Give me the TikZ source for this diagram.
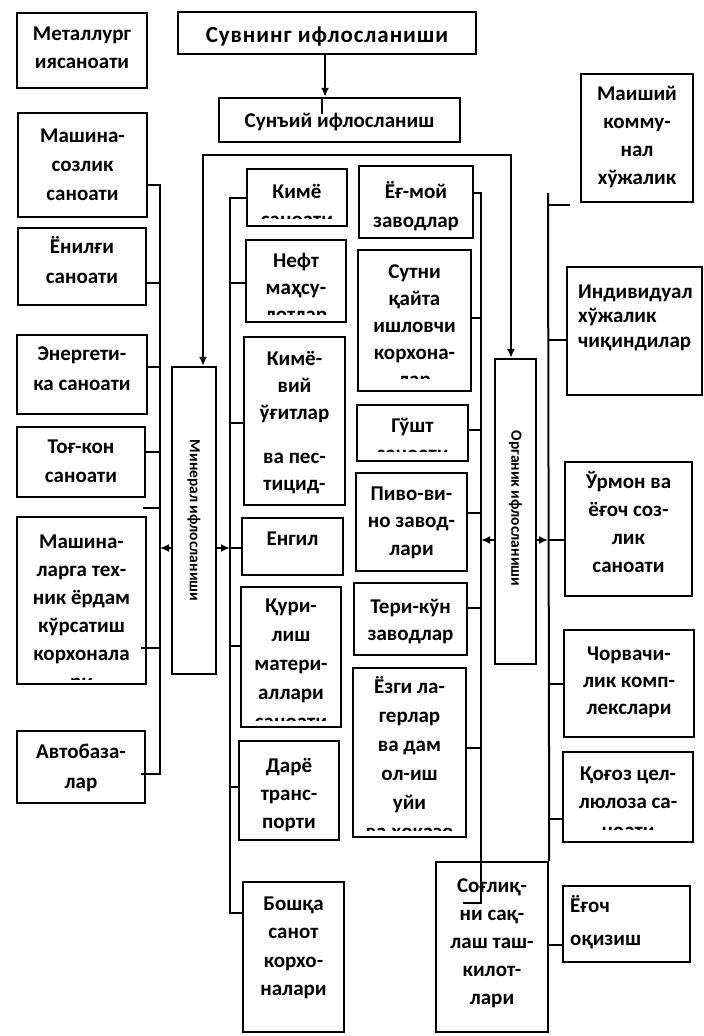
\documentclass[tikz,border=0pt]{standalone}
\usepackage{fontspec}
\setmainfont{Carlito}
\usetikzlibrary{fit,arrows.meta,calc}

\tikzset{
  box/.style={draw=black, line width=2.4pt, inner sep=0pt, fit={#1}},
  box/.default={},
  lbl/.style={align=center, inner sep=0pt, text=black,
              font=\bfseries\fontsize{21}{28}\selectfont},
  ls/.style={font=\bfseries\fontsize{21}{#1}\selectfont},
  rot/.style={rotate=-90, inner sep=0pt, font=\bfseries\fontsize{15.5}{18}\selectfont},
  conn/.style={draw=black, line width=2pt},
  arr/.style={conn, -{Latex[length=9pt,width=8pt]}},
}

% framed box with centred text; text below y = #6 is cut off
% #1 label options, #2 name, #3 top-left, #4 bottom-right,
% #5 first baseline, #6 lowest visible y, #7 text
\newcommand\tbox[7][]{%
  \coordinate (#2-tl) at (#3);
  \coordinate (#2-br) at (#4);
  \coordinate (#2-c) at ($(#2-tl)!.5!(#2-br)$);
  \begin{scope}
    \clip (#2-tl) rectangle (#2-br |- 0,#6);
    \node[lbl, anchor=north, #1] (#2-t) at (#2-c |- 0,{#5-19}) {\rule{0pt}{19pt}#7};
  \end{scope}
  \node[box={(#2-tl) (#2-br)}] (#2) {};
}
% framed box with left-aligned text starting at x = #5
% #1 label options, #2 name, #3 top-left, #4 bottom-right,
% #5 text left x, #6 first baseline, #7 text
\newcommand\lbox[7][]{%
  \coordinate (#2-tl) at (#3);
  \coordinate (#2-br) at (#4);
  \node[lbl, align=left, anchor=north west, #1] (#2-t) at (#5,{#6-19}) {\rule{0pt}{19pt}#7};
  \node[box={(#2-tl) (#2-br)}] (#2) {};
}

\begin{document}
\begin{tikzpicture}[x=1pt, y=-1pt]
\useasboundingbox (0,0) rectangle (704,1036);

% ---- top ----
\tbox[font=\bfseries\fontsize{23}{28}\selectfont\addfontfeatures{LetterSpace=4}]{suv}{178,12}{476,54}{42}{54}{Сувнинг ифлосланиши}
\tbox{sun}{219,98}{460,142}{127}{142}{Сунъий ифлосланиш}

% ---- outer left column ----
\tbox{metal}{17,13}{147,88}{40}{88}{Металлург\\иясаноати}
\tbox[ls=29]{mash}{18,113}{147,217}{142}{217}{Машина-\\созлик\\саноати}
\tbox[ls=30]{yonilgi}{18,228}{146,305}{253}{305}{Ёнилғи\\саноати}
\tbox[ls=30]{energ}{17,335}{147,414}{360}{414}{Энергети-\\ка саноати}
\tbox[ls=29]{tog}{17,427}{145,497}{453}{497}{Тоғ-кон\\саноати}
\tbox{texn}{17,517}{146,684}{548}{679}{Машина-\\ларга тех-\\ник ёрдам\\кўрсатиш\\корхонала\\ри}
\tbox[ls=30]{avto}{17,731}{145,803}{758}{803}{Автобаза-\\лар}

% ---- vertical category boxes ----
\node[box={(172,367) (216,674)}] (min) {};
\node[rot] (min-t) at (min.center) {Минерал ифлосланиши};
\node[box={(495,359) (536,664)}] (org) {};
\node[rot] (org-t) at ([yshift=3]org.center) {Органик ифлосланиши};

% ---- inner left column ----
\tbox{kimyo}{247,169}{347,226}{198}{218}{Кимё\\саноати}
\tbox[ls=27]{neft}{246,240}{346,322}{267}{314}{Нефт\\маҳсу-\\лотлар}
\tbox[ls=27]{ugit}{244,337}{345,505}{365}{505}{Кимё-\\вий\\ўғитлар\\[17pt]ва пес-\\тицид-}
\tbox{engil}{242,518}{343,575}{545}{575}{Енгил}
\tbox[ls=29]{qurilish}{241,587}{341,727}{612}{720}{Қури-\\лиш\\матери-\\аллари\\саноати}
\tbox[ls=28]{daryo}{239,741}{339,840}{772}{840}{Дарё\\транс-\\порти}
\tbox[ls=28.5]{boshqa}{243,882}{344,1032}{910}{1032}{Бошқа\\санот\\корхо-\\налари}

% ---- inner right column ----
\tbox[ls=29]{yog}{359,166}{473,238}{198}{238}{Ёғ-мой\\заводлар}
\tbox[ls=27]{sut}{358,250}{471,391}{278}{378}{Сутни\\қайта\\ишловчи\\корхона-\\лар}
\tbox{gosht}{357,405}{468,461}{432}{451}{Гўшт\\саноати}
\tbox[ls=27.5]{pivo}{356,473}{467,571}{500}{571}{Пиво-ви-\\но завод-\\лари}
\tbox[ls=27]{teri}{354,583}{467,655}{613}{655}{Тери-кўн\\заводлар}
\tbox[ls=29]{yozgi}{353,668}{466,837}{693}{830}{Ёзги ла-\\герлар\\ва дам\\ол-иш\\уйи\\ва ҳоказо}

% ---- outer right column ----
\tbox{maishiy}{581,74}{693,202}{100}{202}{Маиший\\комму-\\нал\\хўжалик}
\lbox[ls=24.5]{indiv}{567,267}{702,395}{578}{298}{Индивидуал\\хўжалик\\чиқиндилар}
\tbox[ls=28]{urmon}{565,462}{692,596}{488}{596}{Ўрмон ва\\ёғоч соз-\\лик\\саноати}
\tbox[ls=27]{chorva}{564,630}{694,737}{660}{737}{Чорвачи-\\лик комп-\\лекслари}
\tbox[ls=28.5]{qogoz}{563,752}{693,842}{780}{829}{Қоғоз цел-\\люлоза са-\\ноати}
\lbox[ls=33]{yogoch}{563,886}{690,962}{570}{912}{Ёғоч\\оқизиш}
\tbox[ls=28]{soglik}{436,862}{548,1032}{892}{1032}{Соғлиқ-\\ни сақ-\\лаш таш-\\килот-\\лари}

% ---- trunk coordinates ----
\coordinate (lt-top) at (160,185);
\coordinate (lt-bot) at (160,774);
\coordinate (lt-stub) at (143,508);
\coordinate (il-top) at (230,198);
\coordinate (il-bot) at (230,913);
\coordinate (ir-top) at (481,193);
\coordinate (ir-bot) at (481,903);
\coordinate (ir-end) at (463,903);
\coordinate (rt-top) at (548,193);
\coordinate (rt-stub) at (570,205);
\coordinate (br-l) at (203,155);
\coordinate (br-r) at (511,155);

% ---- connectors ----
\draw[arr] ([xshift=-2]suv.south) -- ([xshift=-2]suv.south |- sun.north);
\draw[conn] ([xshift=-18]sun.north) -- ++(0,17);

\draw[conn, {Latex[length=9pt,width=8pt]}-{Latex[length=9pt,width=8pt]}]
  (min.north -| br-l) -- (br-l) -- (br-r) -- (org.north -| br-r);

% outer left trunk
\draw[conn] (mash.east |- lt-top) -- (lt-top) -- (lt-bot) -- ([xshift=-5]avto.east |- lt-bot);
\draw[conn] (yonilgi.east |- 0,283) -- (lt-top |- 0,283);
\draw[conn] (energ.east |- 0,367) -- (lt-top |- 0,367);
\draw[conn] (tog.east |- 0,452) -- (lt-top |- 0,452);
\draw[conn] (lt-stub) -- (lt-top |- lt-stub);
\draw[conn] ([xshift=-6]texn.east |- 0,648) -- (lt-top |- 0,648);
\draw[arr] (min.west |- 0,548) -- (lt-top |- 0,548);

% inner left trunk
\draw[conn] (kimyo.west |- il-top) -- (il-top) -- (il-bot) -- (boshqa.west |- il-bot);
\draw[conn] (neft.west |- 0,283) -- (il-top |- 0,283);
\draw[conn] (ugit.west |- 0,423) -- (il-top |- 0,423);
\draw[conn] (qurilish.west |- 0,646) -- (il-top |- 0,646);
\draw[conn] (daryo.west |- 0,787) -- (il-top |- 0,787);
\draw[arr] (min.east |- 0,548) -- (il-top |- 0,548);
\draw[conn] (il-top |- 0,548) -- (engil.west |- 0,548);

% inner right trunk
\draw[conn] (yog.east |- ir-top) -- (ir-top) -- (ir-bot) -- (ir-end);
\draw[conn] (sut.east |- 0,318) -- (ir-top |- 0,318);
\draw[conn] (gosht.east |- 0,430) -- (ir-top |- 0,430);
\draw[conn] (pivo.east |- 0,513) -- (ir-top |- 0,513);
\draw[conn] (teri.east |- 0,608) -- (ir-top |- 0,608);
\draw[conn] (yozgi.east |- 0,748) -- (ir-top |- 0,748);
\draw[arr] (org.west |- 0,540) -- (ir-top |- 0,540);

% outer right trunk
\draw[conn] (rt-top) -- (soglik.north east);
\draw[conn] (rt-top |- rt-stub) -- (rt-stub);
\draw[conn] (rt-top |- 0,340) -- (indiv.west |- 0,340);
\draw[arr] (org.east |- 0,540) -- (rt-top |- 0,540);
\draw[conn] (rt-top |- 0,540) -- (urmon.west |- 0,540);
\draw[conn] (rt-top |- 0,684) -- (chorva.west |- 0,684);
\draw[conn] (rt-top |- 0,819) -- (qogoz.west |- 0,819);
\draw[conn] (soglik.east |- 0,945) -- (yogoch.west |- 0,945);
\end{tikzpicture}
\end{document}
